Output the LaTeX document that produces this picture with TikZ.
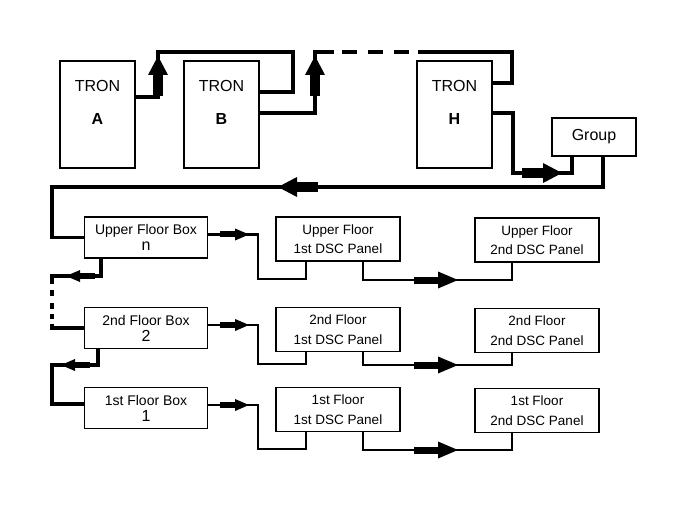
\documentclass[tikz,border=0pt]{standalone}
\usepackage{fontspec}
\setmainfont{Liberation Sans}
\usepackage{tikz}

% flow marks: a thick stub followed by a solid head
\tikzset{
  bigtip/.pic={\fill (-21,-5) rectangle (0,5); \fill (0,-10) -- (19,0) -- (0,10) -- cycle;},
  midtip/.pic={\fill (-24,-3.5) rectangle (0,3.5); \fill (0,-8.5) -- (20,0) -- (0,8.5) -- cycle;},
  smalltip/.pic={\fill (-15,-3) rectangle (0,3); \fill (0,-6) -- (14,0) -- (0,6) -- cycle;}
}

\begin{document}
\begin{tikzpicture}[x=1pt,y=-1pt,
    wire/.style={line width=3.2pt},
    thinwire/.style={line width=2.3pt},
    tron/.style={draw,line width=2pt,minimum width=75pt,minimum height=107pt},
    floorbox/.style={draw,line width=1.3pt,minimum width=123pt,minimum height=41pt,
      align=center,font=\fontsize{14}{16}\selectfont},
    panel/.style={draw,line width=1.8pt,minimum width=124pt,minimum height=44pt,
      align=center,font=\fontsize{13.5}{19.5}\selectfont}]
  \useasboundingbox (0,0) rectangle (678,508);

  \foreach \n/\x in {A/97.5,B/221.5,H/454.5} {
    \node[tron] (\n) at (\x,114.5) {};
    \node[font=\fontsize{16}{33}\selectfont,align=center] (\n-lab) at (\x,102) {TRON\\\textbf{\n}};
  }
  \node[draw,line width=1.5pt,minimum width=84pt,minimum height=38pt,
    font=\fontsize{16}{19}\selectfont] (grp) at (594,137) {Group};

  \foreach \n/\y/\fl/\dg/\ly/\my in {u/237.5/Upper/n/279/280,s/328/2nd/2/364/365,f/408/1st/1/449/450} {
    \node[floorbox] (\n-box) at (146,\y) {\fl{} Floor Box\\{\fontsize{16}{16}\selectfont\dg}};
    \node[panel] (\n-one) at (338,\y+1.5) {\fl{} Floor\\1st DSC Panel};
    \node[panel] (\n-two) at (537,\y+2.5) {\fl{} Floor\\2nd DSC Panel};
    \draw[thinwire] (\n-box.east |- 0,\y-3) -| (258,\ly) -| (\n-one.south -| 306,0);
    \draw[thinwire] (\n-one.south -| 363,0) |- (512,\my) -- (\n-two.south -| 512,0);
    \pic at (235,\y-3) {smalltip};
    \pic at (438,\my) {midtip};
  }

  \draw[wire] (A.east |- 0,97) -| (158,52) -| (293,92) -- (B.east |- 0,92);
  \draw[wire,dash pattern=on 135pt off 8pt on 15pt off 11pt on 15pt off 11pt on 15pt off 9pt on 400pt]
    (B.east |- 0,113) -| (315,52) -- (512,52) |- (H.east |- 0,83);
  \draw[wire] (H.east |- 0,113) -| (513,173) -| (grp.south -| 572,0);
  \draw[wire] (grp.south -| 603,0) |- (52,187) |- (u-box.west);
  \draw[wire,dash pattern=on 74pt off 6pt on 6pt off 7pt on 6pt off 5pt on 5pt off 5pt on 300pt]
    (u-box.south -| 101,0) |- (52,276) |- (s-box.west);
  \draw[wire] (s-box.south -| 98,0) |- (52,365) |- (f-box.west |- 0,404);

  \pic[rotate=90] at (158,75) {bigtip};
  \pic[rotate=90] at (315,75) {bigtip};
  \pic at (543,173) {bigtip};
  \pic[rotate=180] at (297,187) {bigtip};
  \pic[rotate=180] at (80,276) {smalltip};
  \pic[rotate=180] at (75,365) {smalltip};
\end{tikzpicture}
\end{document}
